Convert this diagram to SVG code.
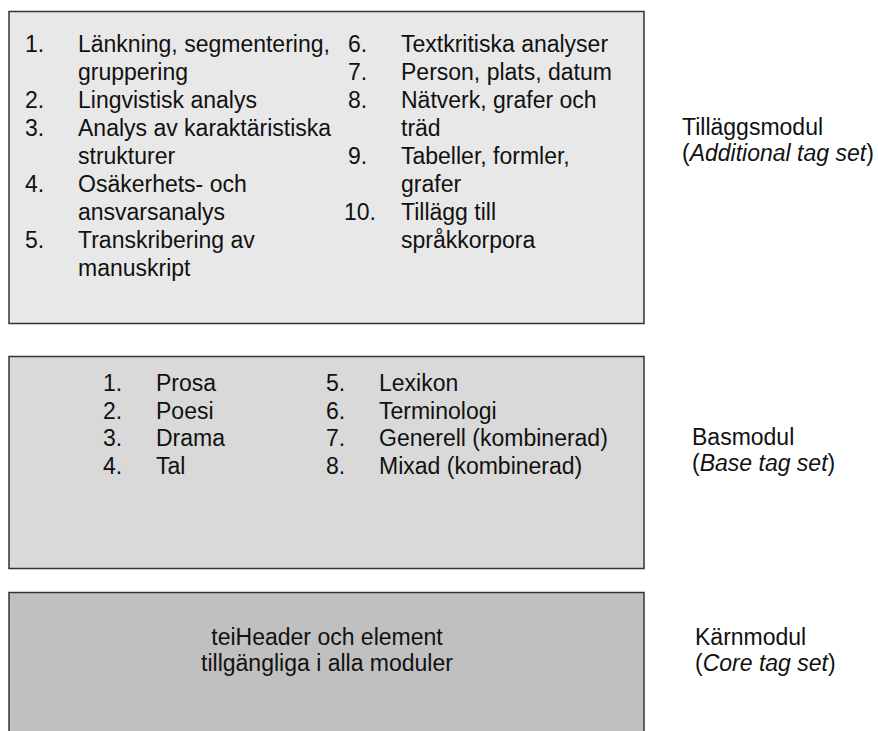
<svg xmlns="http://www.w3.org/2000/svg" width="878" height="731" viewBox="0 0 878 731">
<style>
text{font-family:"Liberation Sans",Arial,sans-serif;font-size:23px;fill:#111}
.box{stroke:#333;stroke-width:1.5}
.mid{text-anchor:middle}
</style>
<rect width="878" height="731" fill="#fff"/>
<g id="tillagg">
<rect class="box" x="9" y="11.5" width="635" height="312" fill="#e8e8e8"/>
<text x="25" y="52">1.</text><text x="78" y="52">Länkning, segmentering,</text>
<text x="78" y="80">gruppering</text>
<text x="25" y="108">2.</text><text x="78" y="108">Lingvistisk analys</text>
<text x="25" y="136">3.</text><text x="78" y="136">Analys av karaktäristiska</text>
<text x="78" y="164">strukturer</text>
<text x="25" y="192">4.</text><text x="78" y="192">Osäkerhets- och</text>
<text x="78" y="220">ansvarsanalys</text>
<text x="25" y="248">5.</text><text x="78" y="248">Transkribering av</text>
<text x="78" y="276">manuskript</text>
<text x="348" y="52">6.</text><text x="401" y="52">Textkritiska analyser</text>
<text x="348" y="80">7.</text><text x="401" y="80">Person, plats, datum</text>
<text x="348" y="108">8.</text><text x="401" y="108">Nätverk, grafer och</text>
<text x="401" y="136">träd</text>
<text x="348" y="164">9.</text><text x="401" y="164">Tabeller, formler,</text>
<text x="401" y="192">grafer</text>
<text x="344" y="220">10.</text><text x="401" y="220">Tillägg till</text>
<text x="401" y="248">språkkorpora</text>
</g>
<g id="bas">
<rect class="box" x="9" y="356.5" width="635" height="212" fill="#d9d9d9"/>
<text x="103" y="391">1.</text><text x="156" y="391">Prosa</text>
<text x="103" y="419">2.</text><text x="156" y="419">Poesi</text>
<text x="103" y="446">3.</text><text x="156" y="446">Drama</text>
<text x="103" y="474">4.</text><text x="156" y="474">Tal</text>
<text x="326" y="391">5.</text><text x="379" y="391">Lexikon</text>
<text x="326" y="419">6.</text><text x="379" y="419">Terminologi</text>
<text x="326" y="446">7.</text><text x="379" y="446">Generell (kombinerad)</text>
<text x="326" y="474">8.</text><text x="379" y="474">Mixad (kombinerad)</text>
</g>
<g id="karn">
<rect class="box" x="9" y="592.5" width="635" height="150" fill="#c0c0c0"/>
<text class="mid" x="327" y="645">teiHeader och element</text>
<text class="mid" x="327" y="671">tillgängliga i alla moduler</text>
</g>
<g id="labels">
<text x="682" y="135">Tilläggsmodul</text>
<text x="682" y="161">(<tspan font-style="italic">Additional tag set</tspan>)</text>
<text x="692" y="445">Basmodul</text>
<text x="692" y="471">(<tspan font-style="italic">Base tag set</tspan>)</text>
<text x="695" y="645">Kärnmodul</text>
<text x="695" y="671">(<tspan font-style="italic">Core tag set</tspan>)</text>
</g>
<g id="connectors"/>
</svg>
